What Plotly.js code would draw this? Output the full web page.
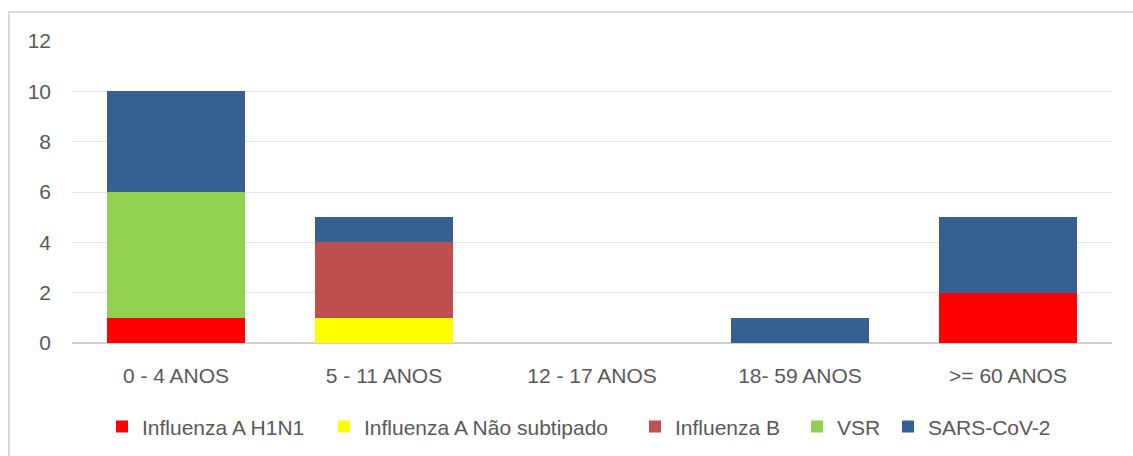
<!DOCTYPE html>
<html>
<head>
<meta charset="utf-8">
<script src="https://cdn.plot.ly/plotly-3.0.1.min.js"></script>
<style>
  html, body { margin: 0; padding: 0; background: #ffffff; }
  #frame { position: absolute; left: 8px; top: 11px; width: 1140px; height: 460px; border: 2px solid #d9d9d9; box-sizing: border-box; }
  #chart { position: absolute; left: 0; top: 0; width: 1133px; height: 456px; }
</style>
</head>
<body>
<div id="frame"></div>
<div id="chart"></div>
<script>
const categories = ["0 - 4 ANOS", "5 - 11 ANOS", "12 - 17 ANOS", "18- 59 ANOS", ">= 60 ANOS"];
const seriesNames = ["Influenza A H1N1", "Influenza A Não subtipado", "Influenza B", "VSR", "SARS-CoV-2"];
const h1n1 = [1, 0, 0, 0, 2];
const naoSubtipado = [0, 1, 0, 0, 0];
const influenzaB = [0, 3, 0, 0, 0];
const vsr = [5, 0, 0, 0, 0];
const sarsCov2 = [4, 1, 0, 1, 3];
const yTicks = [0, 2, 4, 6, 8, 10, 12];

const colors = ["#FF0000", "#FFFF00", "#C0504D", "#92D050", "#376092"];
const values = [h1n1, naoSubtipado, influenzaB, vsr, sarsCov2];

const font = { family: "Liberation Sans, Arial, sans-serif", size: 21, color: "#595959" };

// plot area geometry (pixels) used to place one legend box per series
const plotLeft = 72, plotWidth = 1040;
const legendTextStarts = [142, 364, 675, 837, 928];
const legendIds = ["legend", "legend2", "legend3", "legend4", "legend5"];

const traces = seriesNames.map((name, i) => ({
  type: "bar",
  name: name,
  x: categories,
  y: values[i],
  marker: { color: colors[i] },
  legend: legendIds[i],
  hoverinfo: "skip"
}));

const layout = {
  width: 1133,
  height: 456,
  barmode: "stack",
  bargap: 0.337,
  paper_bgcolor: "rgba(0,0,0,0)",
  plot_bgcolor: "rgba(0,0,0,0)",
  margin: { l: 72, r: 21, t: 41, b: 113, autoexpand: false },
  font: font,
  showlegend: true,
  xaxis: {
    type: "category",
    showgrid: false,
    showline: false,
    zeroline: false,
    ticks: "",
    tickfont: font,
    ticklabelstandoff: 18,
    automargin: false,
    fixedrange: true
  },
  yaxis: {
    range: [0, 12],
    tickvals: yTicks,
    ticktext: yTicks.map(String),
    showgrid: true,
    gridcolor: "#e4e4e4",
    gridwidth: 1,
    zeroline: true,
    zerolinecolor: "#cfcfcf",
    zerolinewidth: 2,
    showline: false,
    ticks: "",
    tickfont: font,
    ticklabelstandoff: 20,
    automargin: false,
    fixedrange: true
  }
};

legendIds.forEach((id, i) => {
  layout[id] = {
    orientation: "h",
    x: (legendTextStarts[i] - 40 - plotLeft) / plotWidth,
    xanchor: "left",
    y: -0.278, yanchor: "middle",
    font: font,
    bgcolor: "rgba(0,0,0,0)",
    borderwidth: 0,
    itemclick: false
  };
});

Plotly.newPlot("chart", traces, layout, { displayModeBar: false, staticPlot: true });
</script>
</body>
</html>
